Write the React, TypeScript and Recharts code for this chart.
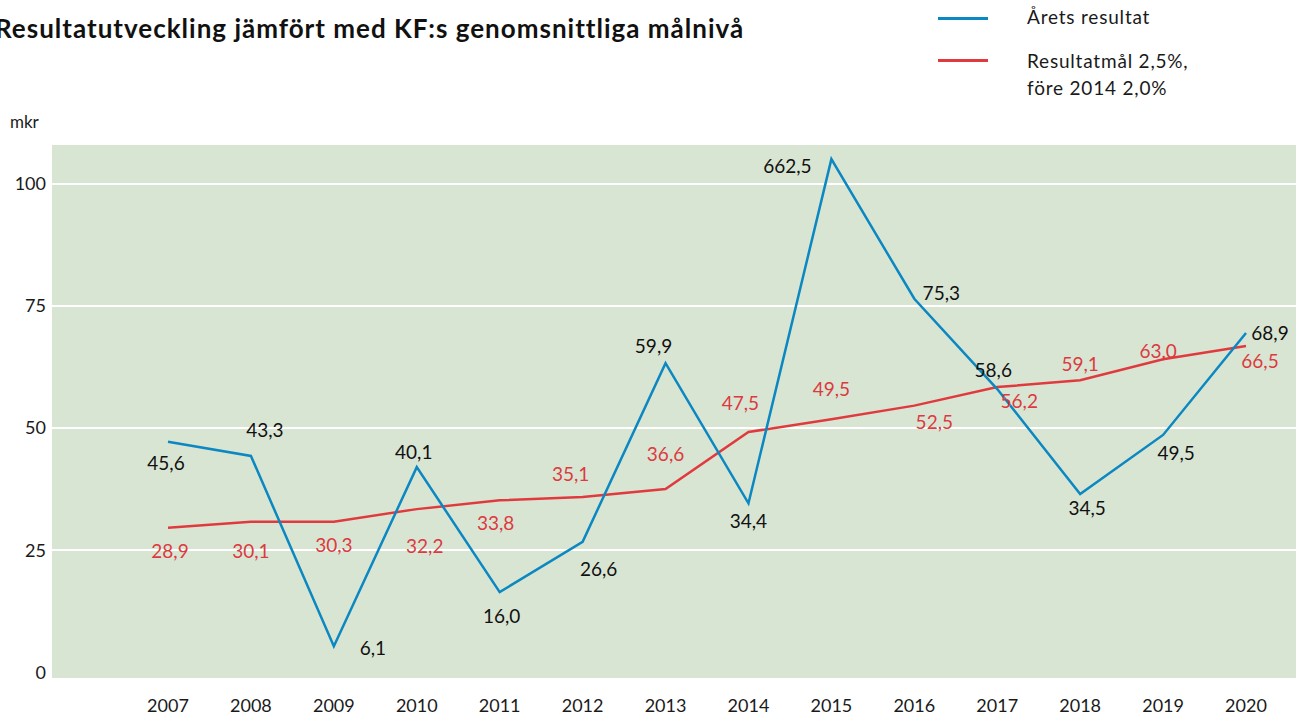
import React from 'react';
import { LineChart, Line, XAxis, YAxis, CartesianGrid, LabelList } from 'recharts';

const years = ['2007', '2008', '2009', '2010', '2011', '2012', '2013', '2014', '2015', '2016', '2017', '2018', '2019', '2020'];

// plotted positions (2015 is drawn cut at the top of the scale)
const aretsResultat = [47.2, 44.3, 5.3, 42.0, 16.4, 26.7, 63.3, 34.6, 105.1, 76.5, 58.0, 36.5, 48.6, 69.5];
const resultatmal = [29.6, 30.8, 30.8, 33.4, 35.2, 35.9, 37.5, 49.2, 51.8, 54.6, 58.4, 59.8, 64.1, 66.8];

const aretsLabels = ['45,6', '43,3', '6,1', '40,1', '16,0', '26,6', '59,9', '34,4', '662,5', '75,3', '58,6', '34,5', '49,5', '68,9'];
const malLabels = ['28,9', '30,1', '30,3', '32,2', '33,8', '35,1', '36,6', '47,5', '49,5', '52,5', '56,2', '59,1', '63,0', '66,5'];

const yTicks = [0, 25, 50, 75, 100];

const data = years.map((year, i) => ({ year, arets: aretsResultat[i], mal: resultatmal[i] }));

// label offsets from each point [dx, dy]
const aretsOffsets = [[-2, 21], [14, -26], [39, 1], [-3, -16], [2, 23], [16, 27], [-12, -18], [0, 17], [-44, 6], [27, -6], [-4, -20], [7, 14], [13, 18], [24, 0]];
const malOffsets = [[2, 23], [0, 29], [0, 23], [8, 36], [-4, 22], [-12, -23], [0, -36], [-8, -30], [0, -31], [20, 16], [22, 13], [0, -17], [-5, -9], [14, 14]];

const BLUE = '#0b87c2';
const RED = '#e03a3e';
const FONT = 'Lato, "Open Sans", sans-serif';

const makeLabel = (texts: string[], offsets: number[][], color: string) => (props: any) => {
  const { x, y, index } = props;
  const [dx, dy] = offsets[index];
  return (
    <text x={x + dx} y={y + dy} textAnchor="middle" dominantBaseline="central" fill={color} fontSize={19} fontFamily={FONT}>
      {texts[index]}
    </text>
  );
};

const App = () => {
  return (
    <div style={{ position: 'absolute', left: 0, top: 0, width: 1296, height: 718, background: '#fff', fontFamily: FONT, overflow: 'hidden' }}>
      <div style={{ position: 'absolute', left: -5, top: 12, fontSize: 26, letterSpacing: 1, fontWeight: 700, color: '#111', whiteSpace: 'nowrap' }}>
        Resultatutveckling jämfört med KF:s genomsnittliga målnivå
      </div>

      <div style={{ position: 'absolute', left: 938, top: 17, width: 50, height: 3, background: BLUE }} />
      <div style={{ position: 'absolute', left: 1027, top: 5, fontSize: 19, letterSpacing: 0.8, color: '#1a1a1a' }}>Årets resultat</div>
      <div style={{ position: 'absolute', left: 938, top: 59, width: 50, height: 3, background: RED }} />
      <div style={{ position: 'absolute', left: 1027, top: 47, fontSize: 19, letterSpacing: 0.8, lineHeight: '27px', color: '#1a1a1a' }}>
        Resultatmål 2,5%,<br />före 2014 2,0%
      </div>

      <div style={{ position: 'absolute', left: 10, top: 111, fontSize: 17, color: '#1a1a1a' }}>mkr</div>

      <div style={{ position: 'absolute', left: 0, top: 0 }}>
        <LineChart width={1296} height={718} data={data} margin={{ top: 145, right: 0, bottom: 0, left: 0 }}>
          <CartesianGrid vertical={false} horizontalValues={[25, 50, 75, 100]} stroke="#ffffff" strokeWidth={2} fill="#d9e5d3" />
          <XAxis
            dataKey="year"
            height={40}
            axisLine={false}
            tickLine={false}
            tickSize={0}
            tickMargin={21}
            padding={{ left: 116, right: 50 }}
            interval={0}
            tick={{ fill: '#1a1a1a', fontSize: 18, fontFamily: FONT }}
          />
          <YAxis
            width={52}
            domain={[-1.2, 108]}
            ticks={yTicks}
            allowDataOverflow
            axisLine={false}
            tickLine={false}
            tickSize={0}
            tickMargin={6}
            tick={{ fill: '#1a1a1a', fontSize: 18, fontFamily: FONT }}
          />
          <Line type="linear" dataKey="mal" stroke={RED} strokeWidth={2.5} dot={false} isAnimationActive={false}>
            <LabelList dataKey="mal" content={makeLabel(malLabels, malOffsets, '#dc3a3f')} />
          </Line>
          <Line type="linear" dataKey="arets" stroke={BLUE} strokeWidth={2.5} dot={false} isAnimationActive={false}>
            <LabelList dataKey="arets" content={makeLabel(aretsLabels, aretsOffsets, '#111111')} />
          </Line>
        </LineChart>
      </div>
    </div>
  );
};

export default App;
